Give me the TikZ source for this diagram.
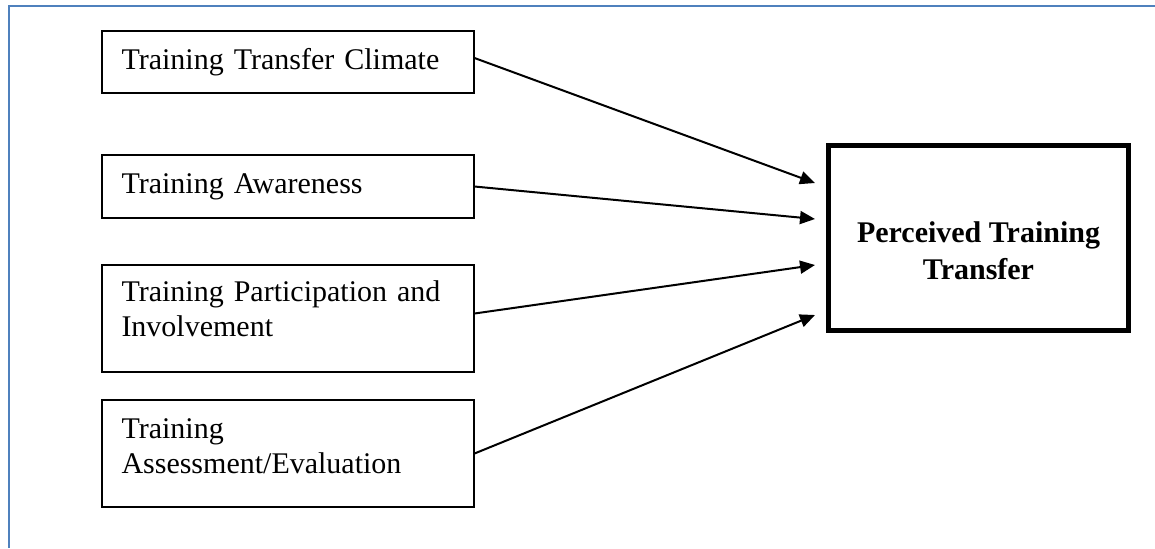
\documentclass[tikz,border=0pt]{standalone}
\usepackage{fontspec}
\setmainfont{Liberation Serif}
\usetikzlibrary{positioning,arrows.meta,calc}
\definecolor{borderblue}{HTML}{4F81BD}

\begin{document}
\begin{tikzpicture}[
    x=0.5pt, y=-0.5pt,
    factor/.style={draw, line width=1pt, minimum width=186pt, minimum height=#1, text width=166pt, inner xsep=10pt, align=left, font=\fontsize{15}{17.5}\selectfont},
    outcome/.style={draw, line width=2.5pt, minimum width=150pt, minimum height=92.5pt, align=center, font=\fontsize{15}{18.5}\selectfont\bfseries},
    arrow/.style={-{Triangle[length=7.5pt,width=6.5pt]}, line width=1pt},
    border/.style={draw=borderblue, line width=1.25pt},
]
\useasboundingbox (0,0) rectangle (1155,548);

\draw[border] (9,548) -- (9,6) -- (1155,6);

\node[factor=31pt] (climate) at (287.5,62) {Training Transfer Climate};
\node[factor=31.5pt] (awareness) at (287.5,186.5) {Training Awareness};
\node[factor=53.5pt, text height=10pt, text depth=27.5pt] (participation) at (287.5,318.5) {Training Participation and\\Involvement};
\node[factor=53.5pt, text height=10pt, text depth=25.5pt] (assessment) at (287.5,453.5) {Training\\Assessment/Evaluation};
\node[outcome, text height=41pt, text depth=0pt] (transfer) at (978.5,238) {Perceived Training\\Transfer};

\coordinate (in1) at ($(transfer.west)+(-5.5pt,27.5pt)$);
\coordinate (in2) at ($(transfer.west)+(-5.5pt,9.5pt)$);
\coordinate (in3) at ($(transfer.west)+(-5.5pt,-13.5pt)$);
\coordinate (in4) at ($(transfer.west)+(-5.5pt,-38.5pt)$);

\draw[arrow] ([yshift=2pt]climate.east) -- (in1);
\draw[arrow] (awareness.east) -- (in2);
\draw[arrow] ([yshift=2.5pt]participation.east) -- (in3);
\draw[arrow] (assessment.east) -- (in4);

\end{tikzpicture}
\end{document}
